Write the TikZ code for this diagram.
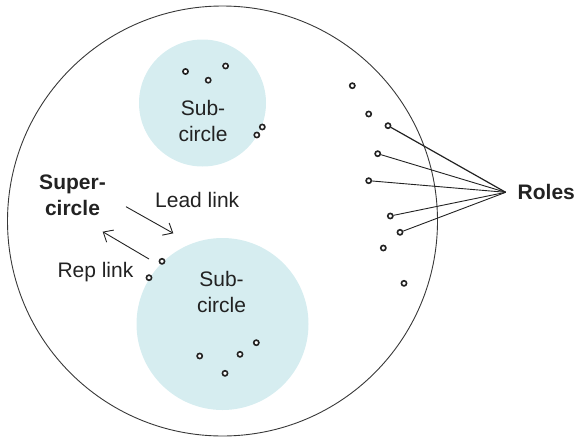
\documentclass[tikz,border=0pt]{standalone}
\usepackage{fontspec}
\setmainfont{Liberation Sans}
\usetikzlibrary{arrows.meta}
\definecolor{subfill}{RGB}{214,237,240}
\definecolor{ink}{RGB}{34,34,34}
\begin{document}
\begin{tikzpicture}[x=1pt,y=-1pt,
  role/.style={circle,draw=ink,line width=1.6pt,fill=white,inner sep=0pt,minimum size=5.2pt},
  roleline/.style={draw=ink,line width=0.9pt},
  link/.style={draw=ink,line width=0.9pt,-{Straight Barb[length=8pt,width=14pt,line width=0.9pt]}},
  lbl/.style={inner sep=0pt,text=ink,font=\fontsize{21}{26}\selectfont},
  blbl/.style={inner sep=0pt,text=ink,align=center,font=\fontsize{21}{26.5}\selectfont\bfseries},
  slbl/.style={inner sep=0pt,text=ink,align=center,font=\fontsize{21}{25.8}\selectfont}]
\useasboundingbox (0,0) rectangle (575,439);
% circles
\node[circle,draw=ink!90,line width=0.9pt,minimum size=430pt,inner sep=0pt] (super) at (222.5,221) {};
\node[circle,fill=subfill,minimum size=127pt,inner sep=0pt] (subtop) at (202.5,103) {};
\node[circle,fill=subfill,minimum size=172pt,inner sep=0pt] (subbot) at (222.5,324) {};
% labels
\node[slbl] (subtoplbl) at (203,121.3) {Sub-\\circle};
\node[slbl] (subbotlbl) at (221.5,292.1) {Sub-\\circle};
\node[blbl] (superlbl) at (72.5,195.1) {Super-\\circle};
\node[lbl,anchor=base west] (lead) at (155,207.3) {Lead link};
\node[lbl,anchor=base west] (rep) at (57.3,277.3) {Rep link};
\node[lbl,anchor=west,font=\fontsize{21}{26}\selectfont\bfseries] (roles) at (517.5,192.3) {Roles};
\coordinate (apex) at (505.7,192.3);
% link arrows
\coordinate (leadA) at (126,206.7);
\coordinate (leadB) at (173.3,233.3);
\coordinate (repA) at (149,259);
\coordinate (repB) at (102.7,231.7);
\draw[link] (leadA) -- (leadB);
\draw[link] (repA) -- (repB);
% roles in top sub-circle
\node[role] (t1) at (185.5,71.5) {};
\node[role] (t2) at (208.2,80.2) {};
\node[role] (t3) at (225.6,66) {};
\node[role] (t4) at (262.3,127) {};
\node[role] (t5) at (256.8,135) {};
% roles in bottom sub-circle
\node[role] (b1) at (162,261.3) {};
\node[role] (b2) at (149,277.7) {};
\node[role] (b3) at (199.7,356) {};
\node[role] (b4) at (240,354.3) {};
\node[role] (b5) at (256.3,342.7) {};
\node[role] (b6) at (225,373.3) {};
% roles on the right
\node[role] (r1) at (352.3,85.7) {};
\node[role] (r2) at (368.7,114) {};
\node[role] (r3) at (388,125.7) {};
\node[role] (r4) at (377.7,153.7) {};
\node[role] (r5) at (368.7,180.7) {};
\node[role] (r6) at (390.3,216) {};
\node[role] (r7) at (400,232.3) {};
\node[role] (r8) at (383.3,248) {};
\node[role] (r9) at (404,283.3) {};
% lines to Roles
\draw[roleline,line width=1.2pt] (r3) -- (apex);
\draw[roleline] (r4) -- (apex);
\draw[roleline] (r5) -- (apex);
\draw[roleline] (r6) -- (apex);
\draw[roleline] (r7) -- (apex);
\end{tikzpicture}
\end{document}
